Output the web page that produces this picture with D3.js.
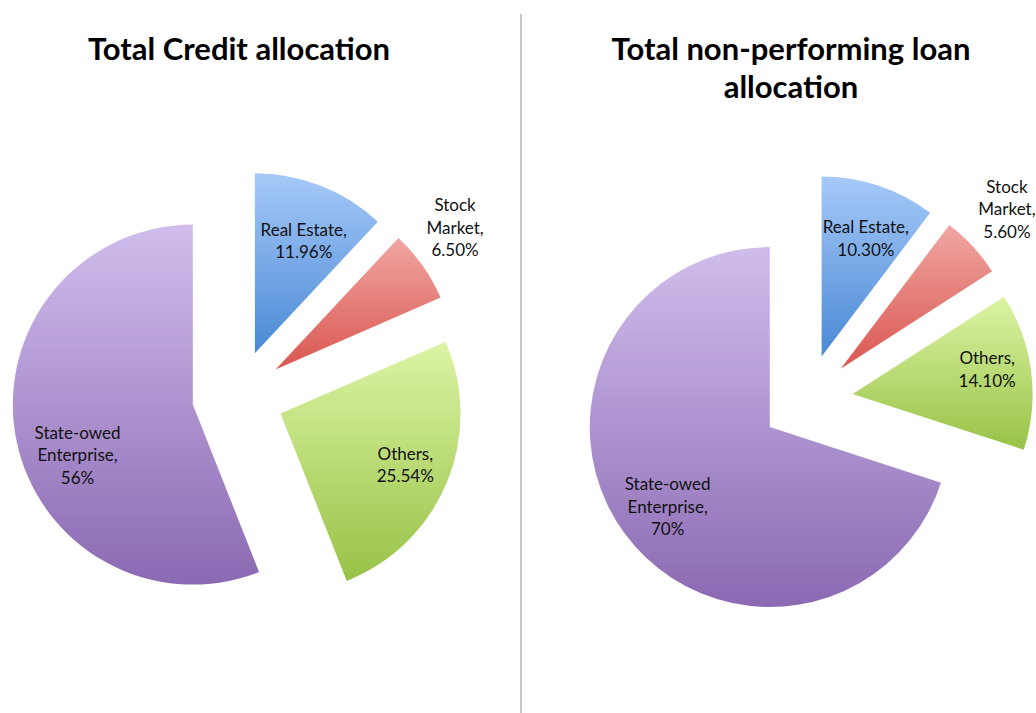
<!DOCTYPE html>
<html>
<head>
<meta charset="utf-8">
<script src="https://cdn.jsdelivr.net/npm/d3@7"></script>
<style>
  body { margin: 0; background: #fff; }
  svg { display: block; font-family: Lato, "Open Sans", sans-serif; }
</style>
</head>
<body>
<svg id="chart" width="1036" height="713"></svg>
<script>
const categories = ["Real Estate", "Stock Market", "Others", "State-owed Enterprise"];
const labelLines = [["Real Estate,"], ["Stock", "Market,"], ["Others,"], ["State-owed", "Enterprise,"]];
const creditValues = [11.96, 6.5, 25.54, 56];
const creditText = ["11.96%", "6.50%", "25.54%", "56%"];
const nplValues = [10.3, 5.6, 14.1, 70];
const nplText = ["10.30%", "5.60%", "14.10%", "70%"];
const colorsTop = ["#a6c9f8", "#f0a6a2", "#dcf4a4", "#d0bdec"];
const colorsBottom = ["#4a89d5", "#da5650", "#98c247", "#8b69b3"];

const width = 1036;
const height = 713;
const radius = 180;
const explode = 46;

const charts = [
  { title: ["Total Credit allocation"], titleX: 239, cx: 238, cy: 396,
    values: creditValues, text: creditText,
    labelR: [0.68, 1.27, 0.75, 0.7], labelNudge: [2, -3, 0, -13] },
  { title: ["Total non-performing loan", "allocation"], titleX: 791, cx: 807, cy: 400,
    values: nplValues, text: nplText,
    labelR: [0.7, 1.28, 0.76, 0.72], labelNudge: [2, -1, -3, -2] }
];

const svg = d3.select("#chart");

const defs = svg.append("defs");
categories.forEach((c, i) => {
  const g = defs.append("linearGradient")
    .attr("id", "grad" + i)
    .attr("x1", 0).attr("y1", 0).attr("x2", 0).attr("y2", 1);
  g.append("stop").attr("offset", "0%").attr("stop-color", colorsTop[i]);
  g.append("stop").attr("offset", "100%").attr("stop-color", colorsBottom[i]);
});

svg.append("line")
  .attr("x1", 521).attr("x2", 521)
  .attr("y1", 14).attr("y2", height)
  .attr("stroke", "#c8c8c8")
  .attr("stroke-width", 2);

const pie = d3.pie().sort(null).value((d) => d);
const arc = d3.arc().innerRadius(0).outerRadius(radius);
const deg = Math.PI / 180;

charts.forEach((chart) => {
  const titleG = svg.append("g");
  titleG.selectAll("text")
    .data(chart.title)
    .join("text")
    .attr("x", chart.titleX)
    .attr("y", (d, i) => 60 + i * 38)
    .attr("text-anchor", "middle")
    .attr("font-size", 31)
    .attr("font-weight", "bold")
    .attr("fill", "#000")
    .text((d) => d);

  const arcs = pie(chart.values);
  const g = svg.append("g").attr("transform", `translate(${chart.cx},${chart.cy})`);

  const slices = g.selectAll("g.slice")
    .data(arcs)
    .join("g")
    .attr("class", "slice")
    .attr("transform", (d) => {
      const a = (d.startAngle + d.endAngle) / 2;
      return `translate(${explode * Math.sin(a)},${-explode * Math.cos(a)})`;
    });

  slices.append("path")
    .attr("d", arc)
    .attr("fill", (d, i) => `url(#grad${i})`);

  slices.each(function (d, i) {
    const a = (d.startAngle + d.endAngle) / 2 + chart.labelNudge[i] * deg;
    const r = radius * chart.labelR[i];
    const lx = r * Math.sin(a);
    const ly = -r * Math.cos(a);
    const lines = labelLines[i].concat([chart.text[i]]);
    const lh = 22.5;
    const y0 = ly - ((lines.length - 1) * lh) / 2;
    d3.select(this).append("text")
      .attr("text-anchor", "middle")
      .attr("font-size", 17)
      .attr("fill", "#111")
      .selectAll("tspan")
      .data(lines)
      .join("tspan")
      .attr("x", lx)
      .attr("y", (t, k) => y0 + k * lh)
      .attr("dy", "0.35em")
      .text((t) => t);
  });
});
</script>
</body>
</html>
